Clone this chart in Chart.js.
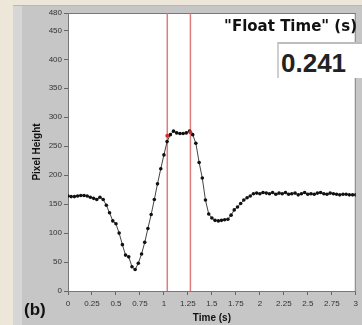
<!DOCTYPE html>
<html><head><meta charset="utf-8">
<script src="https://cdn.jsdelivr.net/npm/chart.js@4/dist/chart.umd.min.js"></script>
<style>
html,body{margin:0;padding:0;}
body{width:362px;height:325px;background:#ede7da;position:relative;overflow:hidden;font-family:"Liberation Sans",Arial,sans-serif;}
#panel{position:absolute;left:13px;top:5px;right:0;bottom:0;background:linear-gradient(to right,#d6d6d6 0,#d6d6d6 9px,#c6c6c6 9px);border-top:1px solid #b8b8b8;}
#wrap{position:absolute;left:0;top:0;width:362px;height:325px;}
#ft{position:absolute;right:5px;top:17px;font-family:"DejaVu Sans",sans-serif;font-weight:bold;font-size:15px;color:#111;white-space:nowrap;}
#box{position:absolute;left:277px;top:42px;width:85px;height:36px;background:#fff;border-top:2px solid #bdbdbd;border-left:2px solid #cfcfcf;box-sizing:border-box;}
#val{position:absolute;left:281px;top:48px;font-weight:bold;font-size:26px;color:#222;}
#b{position:absolute;left:24px;top:300px;font-weight:bold;font-size:17px;color:#111;}
</style></head>
<body>
<div id="panel"></div>
<div id="wrap"><canvas id="c" width="362" height="325"></canvas></div>
<div id="ft">"Float Time" (s)</div>
<div id="box"></div>
<div id="val">0.241</div>
<div id="b">(b)</div>
<script>
const times = [0,0.033,0.067,0.1,0.133,0.167,0.2,0.233,0.267,0.3,0.333,0.367,0.4,0.433,0.467,0.5,0.533,0.567,0.6,0.633,0.667,0.7,0.733,0.767,0.8,0.833,0.867,0.9,0.933,0.967,1,1.033,1.067,1.1,1.133,1.167,1.2,1.233,1.267,1.3,1.333,1.367,1.4,1.433,1.467,1.5,1.533,1.567,1.6,1.633,1.667,1.7,1.733,1.767,1.8,1.833,1.867,1.9,1.933,1.967,2,2.033,2.067,2.1,2.133,2.167,2.2,2.233,2.267,2.3,2.333,2.367,2.4,2.433,2.467,2.5,2.533,2.567,2.6,2.633,2.667,2.7,2.733,2.767,2.8,2.833,2.867,2.9,2.933,2.967,3];
const pixelHeight = [164,163,163,164,165,165,164,162,160,158,162,158,148,135,121,116,100,80,62,59,42,37,48,64,84,108,132,158,185,211,235,258,270,276,273,272,272,273,276,270,255,222,195,157,133,126,122,121,122,123,124,131,140,145,151,157,161,164,168,169,168,170,169,168,170,167,169,168,170,167,168,169,166,168,170,167,168,167,169,170,168,167,169,168,167,166,167,167,166,166,166];
const cursorTimes = [1.035, 1.276];
const cursorHeights = [268, 274];
const yTicks = [0,50,100,150,200,250,300,350,400,450,480];
const xTicks = [0,0.25,0.5,0.75,1,1.25,1.5,1.75,2,2.25,2.5,2.75,3];

const mainData = times.map((t,i)=>({x:t,y:pixelHeight[i]}));
const cursorSets = cursorTimes.map(t=>({
  data:[{x:t,y:0},{x:t,y:480}], borderColor:'rgba(222,110,110,0.9)', borderWidth:1.5,
  pointRadius:0, showLine:true, fill:false, order:2
}));
const whiteArea = {
  id:'whiteArea',
  beforeDraw(chart){
    const {ctx, chartArea:a} = chart;
    ctx.save(); ctx.fillStyle='#ffffff';
    ctx.fillRect(a.left,a.top,a.right-a.left,a.bottom-a.top);
    ctx.strokeStyle='#777'; ctx.lineWidth=1;
    ctx.beginPath(); ctx.moveTo(a.left,a.top+0.5); ctx.lineTo(a.right,a.top+0.5);
    ctx.moveTo(a.right-0.5,a.top); ctx.lineTo(a.right-0.5,a.bottom); ctx.stroke();
    ctx.restore();
  }
};
const tickFont = {family:'"Liberation Sans", Arial, sans-serif', size:8};
const titleFont = {family:'"Liberation Sans", Arial, sans-serif', size:10, weight:'bold'};
new Chart(document.getElementById('c'), {
  type:'scatter',
  data:{datasets:[
    {data:mainData, showLine:true, borderColor:'#444', borderWidth:1, pointRadius:1.8,
     pointBackgroundColor:'#111', pointBorderColor:'#111', pointBorderWidth:0, order:1},
    ...cursorSets,
    {data:cursorTimes.map((t,i)=>({x:t,y:cursorHeights[i]})), pointRadius:2, pointBackgroundColor:'#d03030',
     pointBorderWidth:0, showLine:false, order:0}
  ]},
  options:{
    responsive:false, animation:false,
    layout:{padding:{left:31,top:13,right:2,bottom:1}},
    plugins:{legend:{display:false}, tooltip:{enabled:false}},
    scales:{
      x:{type:'linear', min:0, max:3,
        afterBuildTicks(s){ s.ticks = xTicks.map(v=>({value:v})); },
        afterFit(s){ s.height = 33; },
        ticks:{font:tickFont, color:'#333', padding:4, maxRotation:0, autoSkip:false, callback:v=>String(v)},
        grid:{display:true, drawOnChartArea:false, tickLength:4, color:'#666'},
        border:{display:true, color:'#777'},
        title:{display:true, text:'Time (s)', font:titleFont, color:'#111', padding:{top:0,bottom:0}}
      },
      y:{type:'linear', min:0, max:480,
        afterBuildTicks(s){ s.ticks = yTicks.map(v=>({value:v})); },
        afterFit(s){ s.width = 37; },
        ticks:{font:tickFont, color:'#333', padding:2, autoSkip:false},
        grid:{display:true, drawOnChartArea:false, tickLength:4, color:'#666'},
        border:{display:true, color:'#777'},
        title:{display:true, text:'Pixel Height', font:titleFont, color:'#111', padding:{top:0,bottom:0}}
      }
    }
  },
  plugins:[whiteArea]
});
</script>
</body></html>
